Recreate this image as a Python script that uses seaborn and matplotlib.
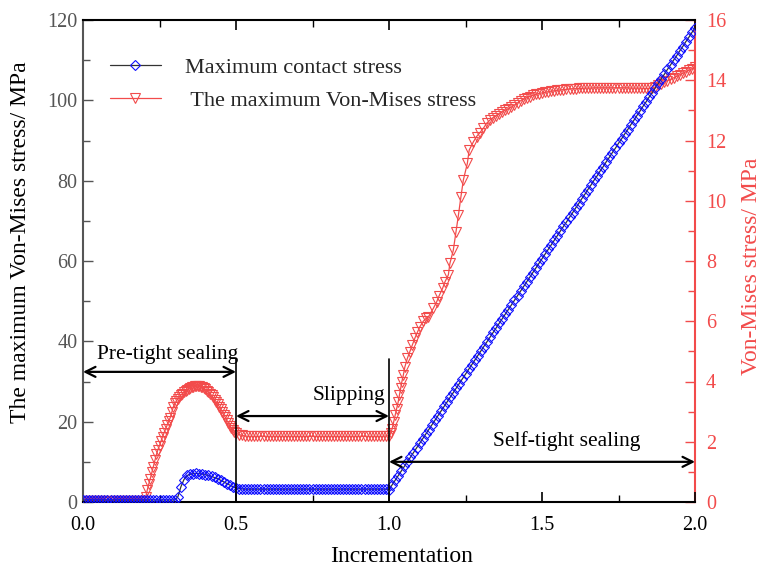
import numpy as np
import pandas as pd
import matplotlib
matplotlib.use("Agg")
import matplotlib.pyplot as plt
from matplotlib.ticker import MultipleLocator
import seaborn as sns

# ---- data ---------------------------------------------------------------
# Maximum contact stress (left axis, MPa), one value per 0.01 increment, 0.00 .. 2.00
contact_stress = [
    0.5, 0.5, 0.5, 0.5, 0.5, 0.5, 0.5, 0.5, 0.5, 0.5,
    0.5, 0.5, 0.5, 0.5, 0.5, 0.5, 0.5, 0.5, 0.5, 0.5,
    0.5, 0.5, 0.5, 0.5, 0.5, 0.5, 0.5, 0.5, 0.5, 0.5,
    0.5, 1.3, 3.8, 5.6, 6.6, 6.9, 7.05, 7.1, 7.05, 6.95,
    6.8, 6.6, 6.35, 6.1, 5.8, 5.4, 5.0, 4.6, 4.2, 3.8,
    3.5, 3.35, 3.25, 3.2, 3.2, 3.2, 3.2, 3.2, 3.2, 3.2,
    3.2, 3.2, 3.2, 3.2, 3.2, 3.2, 3.2, 3.2, 3.2, 3.2,
    3.2, 3.2, 3.2, 3.2, 3.2, 3.2, 3.2, 3.2, 3.2, 3.2,
    3.2, 3.2, 3.2, 3.2, 3.2, 3.2, 3.2, 3.2, 3.2, 3.2,
    3.2, 3.2, 3.2, 3.2, 3.2, 3.2, 3.2, 3.2, 3.2, 3.2,
    3.1, 4.25, 5.4, 6.55, 7.7, 8.85, 10.0, 11.1, 12.3, 13.4,
    14.6, 15.7, 16.9, 18.0, 19.2, 20.3, 21.5, 22.6, 23.8, 24.9,
    26.1, 27.2, 28.4, 29.5, 30.7, 31.8, 33.0, 34.1, 35.3, 36.4,
    37.6, 38.7, 39.9, 41.0, 42.2, 43.3, 44.5, 45.6, 46.8, 47.9,
    49.1, 50.2, 51.4, 52.5, 53.7, 54.8, 56.0, 57.1, 58.3, 59.4,
    60.6, 61.7, 62.9, 64.0, 65.2, 66.3, 67.5, 68.6, 69.7, 70.9,
    72.0, 73.2, 74.3, 75.5, 76.6, 77.8, 78.9, 80.1, 81.2, 82.4,
    83.5, 84.7, 85.8, 87.0, 88.1, 89.3, 90.4, 91.6, 92.7, 93.9,
    95.0, 96.2, 97.3, 98.5, 99.6, 100.8, 101.9, 103.1, 104.2, 105.4,
    106.5, 107.7, 108.8, 110.0, 111.1, 112.3, 113.4, 114.6, 115.7, 116.9,
    118.0,
]
contact_increment = np.round(np.arange(len(contact_stress)) * 0.01, 2)

# Maximum Von-Mises stress (right axis, MPa) with the solver's increments
mises_increment = [
    0.000, 0.005, 0.010, 0.015, 0.020, 0.025, 0.030, 0.035, 0.040, 0.045,
    0.050, 0.055, 0.060, 0.065, 0.070, 0.075, 0.080, 0.085, 0.090, 0.095,
    0.100, 0.105, 0.110, 0.115, 0.120, 0.125, 0.130, 0.135, 0.140, 0.145,
    0.150, 0.155, 0.160, 0.165, 0.170, 0.175, 0.180, 0.185, 0.190, 0.195,
    0.200, 0.205, 0.210, 0.215, 0.220, 0.225, 0.230, 0.235, 0.240, 0.245,
    0.250, 0.255, 0.260, 0.265, 0.270, 0.275, 0.280, 0.285, 0.290, 0.295,
    0.300, 0.305, 0.310, 0.315, 0.320, 0.325, 0.330, 0.335, 0.340, 0.345,
    0.350, 0.355, 0.360, 0.365, 0.370, 0.375, 0.380, 0.385, 0.390, 0.395,
    0.400, 0.405, 0.410, 0.415, 0.420, 0.425, 0.430, 0.435, 0.440, 0.445,
    0.450, 0.455, 0.460, 0.465, 0.470, 0.475, 0.480, 0.485, 0.490, 0.495,
    0.50, 0.51, 0.52, 0.53, 0.54, 0.55, 0.56, 0.57, 0.58, 0.59,
    0.60, 0.61, 0.62, 0.63, 0.64, 0.65, 0.66, 0.67, 0.68, 0.69,
    0.70, 0.71, 0.72, 0.73, 0.74, 0.75, 0.76, 0.77, 0.78, 0.79,
    0.80, 0.81, 0.82, 0.83, 0.84, 0.85, 0.86, 0.87, 0.88, 0.89,
    0.90, 0.91, 0.92, 0.93, 0.94, 0.95, 0.96, 0.97, 0.98, 0.99,
    1.000, 1.005, 1.010, 1.015, 1.020, 1.025, 1.030, 1.034, 1.038, 1.042,
    1.047, 1.052, 1.060, 1.068, 1.076, 1.085, 1.093, 1.101, 1.112, 1.122,
    1.129, 1.145, 1.156, 1.164, 1.175, 1.183, 1.194, 1.199, 1.210, 1.219,
    1.227, 1.235, 1.243, 1.256, 1.262, 1.276, 1.286, 1.297, 1.308, 1.319,
    1.330, 1.340, 1.350, 1.360, 1.370, 1.380,
    1.39, 1.40, 1.41, 1.42, 1.43, 1.44, 1.45, 1.46, 1.47, 1.48,
    1.49, 1.50, 1.51, 1.52, 1.53, 1.54, 1.55, 1.56, 1.57, 1.58,
    1.59, 1.60, 1.61, 1.62, 1.63, 1.64, 1.65, 1.66, 1.67, 1.68,
    1.69, 1.70, 1.71, 1.72, 1.73, 1.74, 1.75, 1.76, 1.77, 1.78,
    1.79, 1.80, 1.81, 1.82, 1.83, 1.84, 1.85, 1.86, 1.87, 1.88,
    1.89, 1.90, 1.91, 1.92, 1.93, 1.94, 1.95, 1.96, 1.97, 1.98,
    1.99, 2.00,
]
mises_stress = [
    0.03, 0.03, 0.03, 0.03, 0.03, 0.03, 0.03, 0.03, 0.03, 0.03,
    0.03, 0.03, 0.03, 0.03, 0.03, 0.03, 0.03, 0.03, 0.03, 0.03,
    0.03, 0.03, 0.03, 0.03, 0.03, 0.03, 0.03, 0.03, 0.03, 0.03,
    0.03, 0.03, 0.03, 0.03, 0.03, 0.03, 0.03, 0.03, 0.03, 0.03,
    0.03, 0.15, 0.40, 0.60, 0.78, 0.98, 1.17, 1.39, 1.58, 1.74,
    1.87, 2.02, 2.17, 2.30, 2.43, 2.55, 2.68, 2.80, 2.98, 3.15,
    3.27, 3.35, 3.43, 3.49, 3.55, 3.60, 3.65, 3.69, 3.73, 3.76,
    3.79, 3.81, 3.83, 3.84, 3.85, 3.85, 3.85, 3.83, 3.81, 3.78,
    3.74, 3.70, 3.65, 3.60, 3.54, 3.47, 3.40, 3.33, 3.25, 3.17,
    3.08, 2.99, 2.90, 2.81, 2.71, 2.62, 2.53, 2.46, 2.39, 2.33,
    2.28, 2.24, 2.21, 2.19, 2.18, 2.18, 2.18, 2.18, 2.18, 2.18,
    2.18, 2.18, 2.18, 2.18, 2.18, 2.18, 2.18, 2.18, 2.18, 2.18,
    2.18, 2.18, 2.18, 2.18, 2.18, 2.18, 2.18, 2.18, 2.18, 2.18,
    2.18, 2.18, 2.18, 2.18, 2.18, 2.18, 2.18, 2.18, 2.18, 2.18,
    2.18, 2.18, 2.18, 2.18, 2.18, 2.18, 2.18, 2.18, 2.18, 2.19,
    2.20, 2.28, 2.42, 2.65, 2.88, 3.10, 3.32, 3.55, 3.77, 3.99,
    4.22, 4.49, 4.77, 4.99, 5.21, 5.45, 5.64, 5.82, 6.00, 6.10,
    6.15, 6.43, 6.65, 6.85, 7.09, 7.31, 7.54, 7.92, 8.35, 8.97,
    9.53, 10.13, 10.69, 11.24, 11.68, 11.96, 12.13, 12.26, 12.40, 12.57,
    12.68, 12.76, 12.82, 12.88, 12.95, 13.01,
    13.05, 13.11, 13.18, 13.25, 13.32, 13.37, 13.42, 13.46, 13.50, 13.53,
    13.56, 13.58, 13.60, 13.62, 13.64, 13.65, 13.67, 13.68, 13.69, 13.70,
    13.71, 13.72, 13.72, 13.73, 13.73, 13.74, 13.74, 13.74, 13.75, 13.75,
    13.75, 13.75, 13.75, 13.75, 13.75, 13.75, 13.75, 13.75, 13.75, 13.75,
    13.74, 13.74, 13.74, 13.74, 13.73, 13.73, 13.73, 13.74, 13.78, 13.84,
    13.89, 13.94, 13.99, 14.03, 14.08, 14.13, 14.18, 14.23, 14.28, 14.33,
    14.38, 14.43,
]

# Loading stages: boundaries on the increment axis and their labels
stage_bounds = [0.0, 0.5, 1.0, 2.0]
stage_names = ["Pre-tight sealing", "Slipping", "Self-tight sealing"]
stage_arrow_level = [32.4, 21.4, 10.0]   # left-axis MPa
stage_text_level = [36.6, 26.6, 15.2]
stage_text_x = [0.278, 0.87, 1.58]
divider_top = 35.6

series_names = ["Maximum contact stress", " The maximum Von-Mises stress"]

# ---- style --------------------------------------------------------------
sns.set_theme(style="white")
plt.rcParams["font.family"] = ["Liberation Serif", "DejaVu Serif"]

RED = "#f24b4b"
BLUE = "#1010ff"
GREY = "#555555"

fig = plt.figure(figsize=(7.61, 5.69), dpi=100)
ax = fig.add_axes([83 / 761, 1 - 502 / 569, 612 / 761, 482 / 569])
ax2 = ax.twinx()

contact_df = pd.DataFrame({"increment": contact_increment, "stress": contact_stress})
mises_df = pd.DataFrame({"increment": mises_increment, "stress": mises_stress})

sns.lineplot(data=mises_df, x="increment", y="stress", ax=ax2, sort=False,
             estimator=None, color=RED, lw=0.9, marker="v", markersize=6.5,
             markerfacecolor="none", markeredgecolor=RED, markeredgewidth=0.8,
             label=series_names[1], legend=False, zorder=3)
sns.lineplot(data=contact_df, x="increment", y="stress", ax=ax, sort=False,
             estimator=None, color="#333333", lw=0.9, marker="D", markersize=5,
             markerfacecolor="none", markeredgecolor=BLUE, markeredgewidth=0.8,
             label=series_names[0], legend=False, zorder=3)

# contact stress drawn above the twin axes
ax.set_zorder(ax2.get_zorder() + 1)
ax.patch.set_visible(False)

# axes limits and ticks
ax.set_xlim(0, 2.0)
ax.set_ylim(0, 120)
ax2.set_ylim(0, 16)
ax.xaxis.set_major_locator(MultipleLocator(0.5))
ax.xaxis.set_minor_locator(MultipleLocator(0.25))
ax.yaxis.set_major_locator(MultipleLocator(20))
ax.yaxis.set_minor_locator(MultipleLocator(10))
ax2.yaxis.set_major_locator(MultipleLocator(2))
ax2.yaxis.set_minor_locator(MultipleLocator(1))
ax.set_xticks(ax.get_xticks())
ax.set_xticklabels([f"{v:.1f}" for v in ax.get_xticks()])
ax.set_xlim(0, 2.0)

ax.tick_params(axis="x", which="both", direction="in", top=True, bottom=True,
               labelsize=14.5, colors="black", pad=10)
ax.tick_params(axis="x", which="major", length=7, width=1.2)
ax.tick_params(axis="x", which="minor", length=5, width=1.0)
ax.tick_params(axis="y", which="both", direction="in", left=True, right=False,
               labelsize=14.5, colors=GREY, pad=4)
ax.tick_params(axis="y", which="major", length=7, width=1.0)
ax.tick_params(axis="y", which="minor", length=5, width=1.0)
ax2.tick_params(axis="y", which="both", direction="in", right=True, left=False,
                labelsize=14.5, colors=RED, pad=8)
ax2.tick_params(axis="y", which="major", length=7, width=1.0)
ax2.tick_params(axis="y", which="minor", length=5, width=1.0)

for name, sp in ax.spines.items():
    sp.set_visible(name in ("left", "bottom", "top"))
    sp.set_linewidth(1.5)
ax.spines["left"].set_color(GREY)
ax.spines["bottom"].set_color("black")
ax.spines["top"].set_color("black")
for name, sp in ax2.spines.items():
    sp.set_visible(name == "right")
ax2.spines["right"].set_color(RED)
ax2.spines["right"].set_linewidth(1.5)

ax.set_xlabel("Incrementation", fontsize=17, color="black")
ax.xaxis.set_label_coords(0.521, -0.092)
ax.set_ylabel("The maximum Von-Mises stress/ MPa", fontsize=17, color="black")
ax.yaxis.set_label_coords(-0.085, 0.54)
ax2.set_ylabel("Von-Mises stress/ MPa", fontsize=17, color=RED)
ax2.yaxis.set_label_coords(1.075, 0.49)

# stage dividers, arrows and labels
for b in stage_bounds[1:3]:
    ax.plot([b, b], [0, divider_top], color="black", lw=1.2, zorder=4)
for i, name in enumerate(stage_names):
    ax.annotate("", xy=(stage_bounds[i + 1], stage_arrow_level[i]),
                xytext=(stage_bounds[i], stage_arrow_level[i]),
                arrowprops=dict(arrowstyle="<->", color="black", lw=1.6,
                                mutation_scale=18, shrinkA=0, shrinkB=0),
                zorder=5, annotation_clip=False)
    ax.text(stage_text_x[i], stage_text_level[i], name, fontsize=15.5,
            ha="center", va="center", color="black", zorder=5)

# legend
h1, l1 = ax.get_legend_handles_labels()
h2, l2 = ax2.get_legend_handles_labels()
leg = ax.legend(h1 + h2, l1 + l2, loc="upper left", bbox_to_anchor=(0.044, 0.922),
                frameon=False, fontsize=16, handlelength=2.3, handletextpad=1.1,
                labelspacing=0.55, borderpad=0, borderaxespad=0)

fig.savefig("out.png", dpi=100)
